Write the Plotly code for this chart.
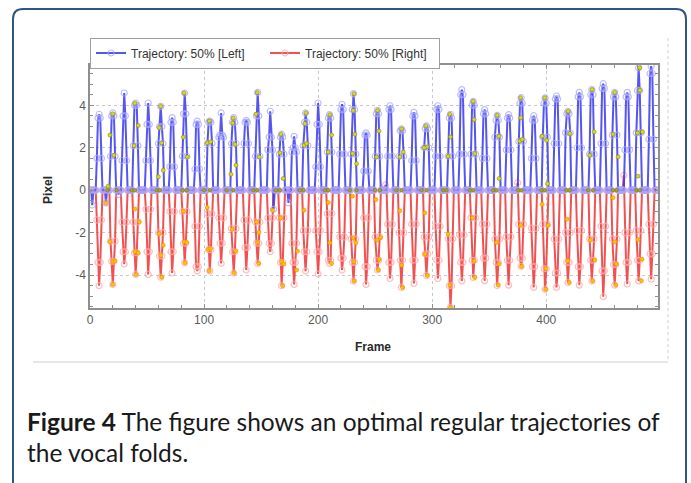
import plotly.graph_objects as go

# ---------------- data ----------------
n_frames = 498
peak_frames = [8, 20, 30, 40, 51, 62, 72, 83, 94, 105, 115, 126, 137, 147, 158, 168,
               179, 189, 200, 210, 221, 231, 242, 252, 263, 273, 284, 295, 305, 316,
               326, 336, 346, 357, 367, 378, 389, 399, 409, 419, 429, 440, 450, 460,
               471, 481, 492]

left_peak = [3.58, 3.64, 4.58, 4.11, 4.11, 3.95, 3.42, 4.58, 3.26, 3.26, 3.64, 3.42,
             3.29, 4.61, 3.72, 2.64, 2.54, 3.64, 4.11, 3.56, 4.05, 4.55, 2.70, 3.76,
             3.98, 2.89, 3.67, 3.03, 3.98, 3.58, 4.74, 4.19, 3.80, 3.53, 3.56, 4.36,
             3.51, 4.35, 4.44, 3.72, 4.61, 4.74, 5.02, 4.61, 4.61, 5.77, 5.84]
left_near = [3.4, 3.5, 3.5, 4.0, 3.1, 3.0, 3.2, 3.6, 3.1, 3.2, 2.6, 3.2, 3.2, 3.5,
             2.5, 2.5, 2.0, 3.2, 3.1, 3.4, 3.8, 3.8, 2.6, 3.6, 3.8, 2.8, 3.5, 2.9,
             3.8, 3.4, 4.5, 4.0, 3.6, 3.3, 3.4, 4.1, 3.3, 4.1, 4.3, 3.6, 4.4, 4.5,
             4.8, 4.4, 4.4, 4.7, 5.5]
left_shoulder = [1.5, 1.6, 1.4, 2.1, 1.4, 2.2, 1.1, 1.6, 1.0, 2.2, 2.5, 2.2, 2.2, 1.6,
                 1.9, 1.7, 1.8, 2.1, 1.1, 1.8, 1.7, 1.7, 0.9, 1.6, 1.6, 1.6, 1.4, 2.0,
                 1.6, 1.6, 1.7, 1.7, 1.5, 2.5, 1.9, 2.3, 1.5, 2.5, 2.2, 2.7, 2.0, 1.7,
                 2.2, 2.6, 1.9, 2.7, 2.4]
left_dip_frames = [2, 14, 25, 161, 174]
left_dip_values = [-0.7, -0.6, -0.2, -0.9, -0.6]

right_peak = [-4.50, -4.44, -3.48, -3.97, -3.97, -4.10, -3.90, -3.42, -3.81, -3.80,
              -3.45, -3.90, -3.76, -3.45, -2.90, -4.50, -4.44, -3.81, -3.95, -3.45,
              -3.76, -4.28, -4.44, -3.76, -4.16, -4.58, -4.39, -4.02, -4.16, -5.52,
              -4.27, -4.11, -4.27, -4.49, -4.47, -3.59, -4.58, -4.67, -4.58, -4.35,
              -4.47, -4.28, -5.02, -4.47, -4.42, -4.27, -4.19]
right_near = [-3.4, -3.35, -2.9, -2.95, -2.9, -3.1, -2.9, -2.5, -3.6, -2.8, -2.5, -2.9,
              -2.7, -2.5, -2.5, -3.4, -3.4, -2.9, -2.9, -3.3, -3.2, -3.4, -3.6, -3.3,
              -3.4, -3.3, -3.3, -3.0, -3.3, -4.5, -3.4, -3.3, -3.2, -3.4, -3.3, -3.2,
              -3.6, -3.7, -3.9, -3.4, -3.6, -3.3, -3.8, -3.5, -3.4, -3.3, -3.0]
right_shoulder = [-1.4, -2.4, -1.5, -1.5, -0.9, -2.0, -1.0, -1.0, -1.7, -1.1, -1.3, -1.8,
                  -1.4, -1.5, -1.3, -1.3, -2.5, -1.9, -1.9, -1.1, -2.2, -2.3, -1.3, -2.2,
                  -1.6, -2.0, -1.6, -2.2, -1.7, -2.3, -2.1, -1.3, -1.6, -2.3, -2.2, -1.6,
                  -1.8, -1.6, -2.3, -2.0, -1.9, -2.3, -1.7, -2.3, -2.0, -1.9, -1.6]
right_bump_frames = [259, 375, 468]
right_bump_values = [0.25, 0.35, 0.7]

# 50 % event markers (frame, pixel)
left_mark_frames = [15.8, 19.9, 17.5, 21.0, 39.4, 38.6, 42.3, 62.0, 60.7, 62.8, 64.2, 59.9,
                    82.6, 81.8, 85.3, 104.6, 102.8, 105.8, 125.6, 125.1, 127.1, 128.0, 123.6,
                    146.6, 145.5, 148.4, 167.4, 166.5, 169.4, 189.3, 188.4, 187.6, 189.9,
                    210.3, 208.9, 211.8, 231.4, 230.8, 232.3, 230.2, 233.7, 252.1, 253.3,
                    251.3, 273.2, 271.7, 274.6, 294.5, 295.6, 293.0, 315.5, 316.1, 314.0,
                    335.9, 336.8, 337.4, 357.0, 358.5, 358.7, 377.5, 377.7, 376.9, 378.9,
                    398.8, 396.4, 400.3, 401.1, 419.2, 420.7, 440.2, 438.2, 442.0, 460.1,
                    458.6, 463.0, 482.0, 482.0, 480.0, 484.4, 480.5]
left_mark_values = [0.19, 3.6, 2.6, 1.65, 4.1, 2.1, 3.05, 3.95, 2.95, 2.23, 0.94, 0.63,
                    4.58, 2.5, 1.57, 3.26, 2.23, 2.28, 3.4, 3.17, 2.16, 1.18, 0.75,
                    4.6, 3.58, 1.57, 2.64, 1.76, 0.55, 3.64, 3.14, 2.12, 2.2,
                    3.56, 1.8, 2.6, 4.55, 3.76, 2.64, 1.73, 1.25, 3.76, 2.79,
                    1.57, 2.89, 1.57, 1.8, 3.03, 2.04, 2.0, 3.58, 2.51, 1.6,
                    4.19, 3.33, 1.73, 3.53, 2.54, 0.55, 4.36, 3.42, 2.32, 2.4,
                    4.35, 2.54, 2.35, 0.31, 3.72, 2.67, 4.74, 1.65, 2.75, 4.61,
                    2.64, 1.57, 5.77, 4.71, 2.7, 2.75, 0.66]
base_mark_frames = [15.2, 23.4, 36.5, 39.4, 58.4, 61.3, 81.2, 84.7, 99.9, 105.2, 119.8,
                    125.6, 143.1, 146.6, 163.0, 166.5, 184.0, 187.0, 206.0, 208.9, 227.9,
                    233.7, 249.8, 254.2, 268.8, 273.2, 290.7, 295.1, 309.7, 312.6, 333.0,
                    336.0, 353.5, 356.4, 375.4, 378.3, 395.8, 398.8, 417.8, 420.7, 436.7,
                    441.1, 458.6, 461.6, 479.1, 482.0]
right_mark_frames = [14.0, 17.5, 19.9, 21.9, 19.9, 39.4, 43.2, 39.4, 42.3, 40.3, 60.7, 62.2,
                     64.2, 62.8, 81.8, 82.6, 84.7, 83.3, 102.8, 103.7, 105.8, 104.6, 124.7,
                     127.7, 126.2, 146.1, 148.1, 147.0, 147.9, 160.1, 167.1, 168.0, 170.0,
                     168.9, 182.0, 181.2, 187.6, 208.9, 210.3, 211.8, 230.2, 230.8, 233.1,
                     231.4, 231.4, 250.7, 251.8, 254.8, 253.6, 252.7, 271.7, 273.2, 274.1,
                     293.6, 293.6, 295.6, 314.0, 315.5, 316.1, 335.4, 336.8, 337.4, 356.4,
                     358.7, 357.8, 377.7, 378.3, 396.4, 401.7, 399.6, 399.4, 418.3, 418.7,
                     420.1, 438.8, 442.6, 440.6, 458.6, 460.1, 461.6, 461.0, 480.5, 484.0,
                     483.5]
right_mark_values = [-0.6, -2.43, -3.37, -3.33, -4.44, -0.89, -1.49, -2.9, -2.95, -3.97,
                     -2.04, -3.07, -2.59, -4.1, -0.99, -2.43, -2.46, -3.42, -0.82, -2.79,
                     -2.76, -3.8, -1.84, -2.86, -3.89, -1.49, -1.99, -2.46, -3.45, -0.94,
                     -1.3, -3.37, -3.48, -4.5, -2.87, -3.76, -0.94, -0.58, -2.48, -3.45,
                     -0.28, -2.24, -2.48, -3.37, -4.28, -0.44, -2.35, -2.23, -3.26, -3.76,
                     -0.97, -3.53, -4.58, -1.07, -3.01, -4.02, -2.07, -4.47, -5.52, -1.3,
                     -3.33, -4.11, -2.46, -3.48, -4.47, -1.65, -3.59, -0.66, -1.65, -3.69,
                     -4.67, -1.36, -3.33, -4.35, -2.35, -3.29, -4.28, -0.35, -2.43, -3.48,
                     -4.47, -2.32, -3.25, -4.27]

x_tick_vals = [0, 100, 200, 300, 400]
x_tick_text = ["0", "100", "200", "300", "400"]
y_tick_vals = [-4, -2, 0, 2, 4]
y_tick_text = ["-4", "-2", "0", "2", "4"]

series_names = ["Trajectory: 50% [Left]", "Trajectory: 50% [Right]"]
caption_bold = "Figure 4"
caption_line1 = " The figure shows an optimal regular trajectories of"
caption_line2 = "the vocal folds."

# ---------------- build series ----------------
frames = list(range(n_frames))
left = [0.0] * n_frames
right = [0.0] * n_frames
for i, p in enumerate(peak_frames):
    left[p - 2] = left_shoulder[i]
    left[p - 1] = left_near[i]
    left[p] = left_peak[i]
    left[p + 1] = left_near[i]
    left[p + 2] = left_shoulder[i]
    right[p - 2] = right_shoulder[i]
    right[p - 1] = right_near[i]
    right[p] = right_peak[i]
    right[p + 1] = right_near[i]
    right[p + 2] = right_shoulder[i]
for f, v in zip(left_dip_frames, left_dip_values):
    left[f] = v
for f, v in zip(right_bump_frames, right_bump_values):
    right[f] = v

# ---------------- layout geometry (pixels) ----------------
W, H = 691, 483
L, R, T, B = 90, 658, 65, 308


def px(x):
    return (x - L) / (R - L)


def py(y):
    return (B - y) / (B - T)


fig = go.Figure()

fig.add_trace(go.Scatter(
    x=frames, y=right, name=series_names[1], mode="lines+markers",
    line=dict(color="rgba(240,50,50,0.85)", width=2),
    marker=dict(symbol="circle-open", size=6, color="rgba(255,165,165,0.75)",
                line=dict(width=1.2)),
))
fig.add_trace(go.Scatter(
    x=frames, y=left, name=series_names[0], mode="lines+markers",
    line=dict(color="rgba(55,55,240,0.85)", width=2),
    marker=dict(symbol="circle-open", size=6, color="rgba(165,165,255,0.75)",
                line=dict(width=1.2)),
))
fig.add_trace(go.Scatter(
    x=base_mark_frames, y=[0] * len(base_mark_frames), mode="markers",
    showlegend=False, hoverinfo="skip",
    marker=dict(size=3.5, color="#a8a820", line=dict(color="#707000", width=0.5)),
))
fig.add_trace(go.Scatter(
    x=right_mark_frames, y=right_mark_values, mode="markers",
    showlegend=False, hoverinfo="skip",
    marker=dict(size=4, color="#ffc000", line=dict(color="#e89000", width=0.6)),
))
fig.add_trace(go.Scatter(
    x=left_mark_frames, y=left_mark_values, mode="markers",
    showlegend=False, hoverinfo="skip",
    marker=dict(size=4, color="#d8d820", line=dict(color="#8a8a00", width=0.6)),
))

axis_common = dict(
    showline=True, linecolor="#8f8f8f", linewidth=1.5, mirror="allticks",
    ticks="inside", ticklen=4, tickcolor="#8f8f8f",
    showgrid=True, gridcolor="#c8c8c8", griddash="dot", gridwidth=1,
    zeroline=False,
    tickfont=dict(family="Liberation Sans, Arial, sans-serif", size=12, color="#5a5a5a"),
)
fig.update_xaxes(range=[0, 498], tickvals=x_tick_vals, ticktext=x_tick_text,
                 minor=dict(dtick=20, tick0=0, ticks="inside", ticklen=3,
                            tickcolor="#8f8f8f", showgrid=False),
                 **axis_common)
fig.update_yaxes(range=[-5.55, 5.9], tickvals=y_tick_vals, ticktext=y_tick_text,
                 minor=dict(dtick=0.5, tick0=0, ticks="inside", ticklen=3,
                            tickcolor="#8f8f8f", showgrid=False),
                 **axis_common)

r = 10
cl, cr, ct, cb = 13, 686, 9, 492
card_path = (
    f"M {px(cl)} {py(ct + r)} L {px(cl)} {py(cb - r)} "
    f"Q {px(cl)} {py(cb)} {px(cl + r)} {py(cb)} L {px(cr - r)} {py(cb)} "
    f"Q {px(cr)} {py(cb)} {px(cr)} {py(cb - r)} L {px(cr)} {py(ct + r)} "
    f"Q {px(cr)} {py(ct)} {px(cr - r)} {py(ct)} L {px(cl + r)} {py(ct)} "
    f"Q {px(cl)} {py(ct)} {px(cl)} {py(ct + r)} Z"
)
shapes = [
    dict(type="path", xref="paper", yref="paper", path=card_path,
         line=dict(color="#2f5487", width=2), layer="above"),
    dict(type="line", xref="paper", yref="paper", x0=px(33), x1=px(668),
         y0=py(362), y1=py(362), line=dict(color="#cfcfcf", width=1.2)),
    dict(type="line", xref="paper", yref="paper", x0=px(668), x1=px(668),
         y0=py(38), y1=py(362), line=dict(color="#cfcfcf", width=1, dash="dot")),
]

annotations = [
    dict(text="<b>Pixel</b>", xref="paper", yref="paper", x=px(48), y=py(190),
         textangle=-90, showarrow=False, xanchor="center", yanchor="middle",
         font=dict(family="Liberation Sans, Arial, sans-serif", size=12, color="#2a2a2a")),
    dict(text="<b>Frame</b>", xref="paper", yref="paper", x=px(373), y=py(347),
         showarrow=False, xanchor="center", yanchor="middle",
         font=dict(family="Liberation Sans, Arial, sans-serif", size=12, color="#2a2a2a")),
    dict(text=f"<b>{caption_bold}</b>{caption_line1}", xref="paper", yref="paper",
         x=px(25), y=py(421), showarrow=False, xanchor="left", yanchor="middle",
         font=dict(family="Lato, Open Sans, sans-serif", size=24.5, color="#1a1a1a")),
    dict(text=caption_line2, xref="paper", yref="paper",
         x=px(25), y=py(453), showarrow=False, xanchor="left", yanchor="middle",
         font=dict(family="Lato, Open Sans, sans-serif", size=24.5, color="#1a1a1a")),
]

fig.update_layout(
    width=W, height=H,
    margin=dict(l=L, r=W - R, t=T, b=H - B, pad=0),
    paper_bgcolor="white", plot_bgcolor="white",
    shapes=shapes, annotations=annotations,
    legend=dict(orientation="h", x=0, xanchor="left", y=py(53), yanchor="middle",
                bgcolor="white", bordercolor="#a0a0a0", borderwidth=1,
                font=dict(family="Liberation Sans, Arial, sans-serif", size=12, color="#333"),
                traceorder="reversed", entrywidth=129, entrywidthmode="pixels"),
    showlegend=True,
)

fig.write_html("out.html", config={"displayModeBar": False},
               post_script="document.body.style.margin='0';")
